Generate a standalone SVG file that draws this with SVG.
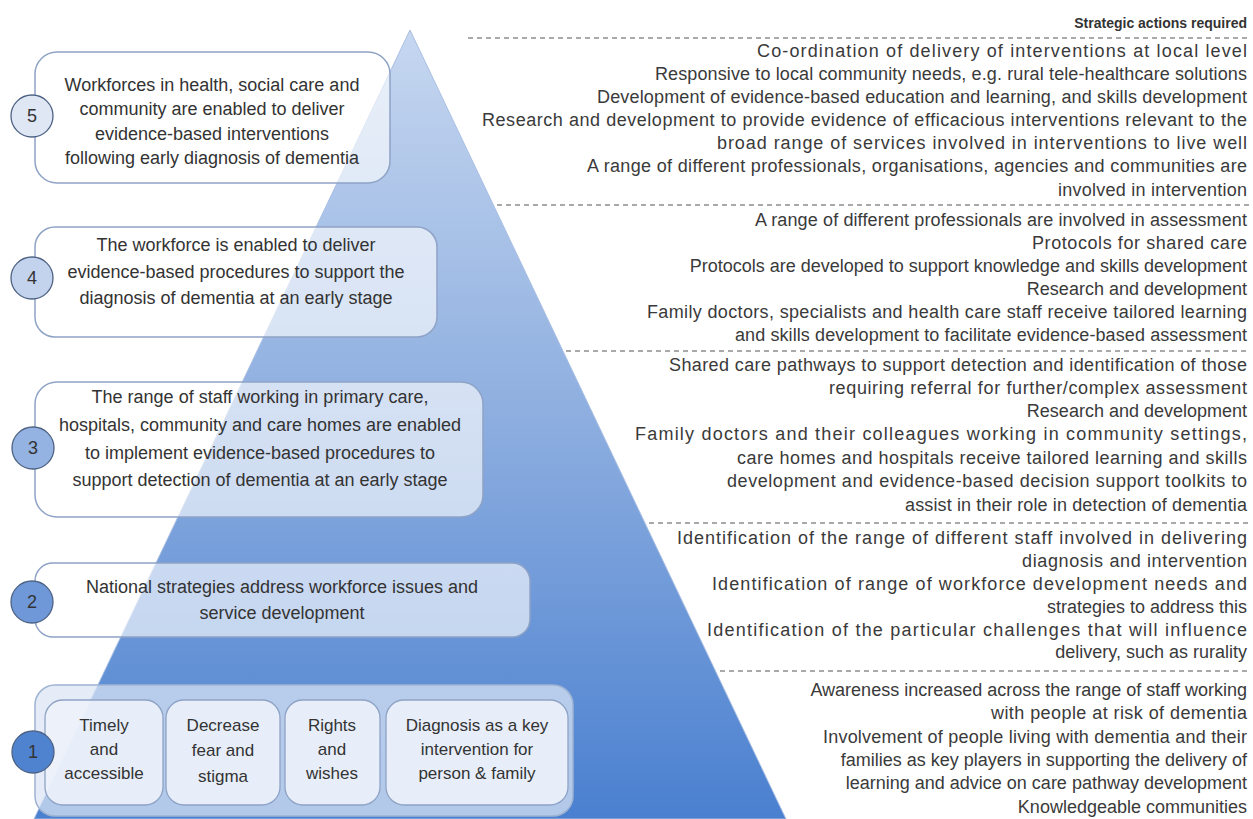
<svg xmlns="http://www.w3.org/2000/svg" width="1253" height="819" viewBox="0 0 1253 819">
<defs>
<linearGradient id="pyr" gradientUnits="userSpaceOnUse" x1="0" y1="30" x2="0" y2="819">
<stop offset="0" stop-color="#c6d7f0"/>
<stop offset="0.5" stop-color="#8caddf"/>
<stop offset="1" stop-color="#4a80d0"/>
</linearGradient>
<style>
.box{fill:#ffffff;fill-opacity:0.62;stroke:#8ea3c6;stroke-width:1.5}
.outer{fill:#dbe5f4;fill-opacity:0.72;stroke:#9fb3d3;stroke-width:1.5}
.inner{fill:#eef3fa;fill-opacity:0.88;stroke:#8ea3c6;stroke-width:1.3}
.circ{stroke:#4d6283;stroke-width:1.3}
.lt{font-family:"Liberation Sans",Arial,sans-serif;font-size:18px;fill:#333333;text-anchor:middle}
.it{font-family:"Liberation Sans",Arial,sans-serif;font-size:17px;fill:#333333;text-anchor:middle}
.num{font-family:"Liberation Sans",Arial,sans-serif;font-size:18px;fill:#333333;text-anchor:middle}
.rt{font-family:"Liberation Sans",Arial,sans-serif;font-size:18px;fill:#3a3a3a;text-anchor:end}
.hd{font-family:"Liberation Sans",Arial,sans-serif;font-size:14px;font-weight:bold;fill:#333333;text-anchor:end}
.dash{stroke:#555555;stroke-width:1.2;stroke-dasharray:5 4;fill:none}
</style>
</defs>
<rect width="1253" height="819" fill="#ffffff"/>
<g id="pyramid">
<polygon points="410,30 786,819 34,819" fill="url(#pyr)" stroke="#a9bfe3" stroke-width="1"/>
</g>
<g id="connectors">
<line class="dash" x1="468" y1="38" x2="1250" y2="38"/>
<line class="dash" x1="497" y1="205" x2="1250" y2="205"/>
<line class="dash" x1="566" y1="351" x2="1250" y2="351"/>
<line class="dash" x1="649" y1="523" x2="1250" y2="523"/>
<line class="dash" x1="720" y1="671" x2="1250" y2="671"/>
</g>
<g id="level5">
<rect class="box" x="35" y="52" width="355" height="131" rx="22"/>
<circle class="circ" cx="32" cy="116" r="21" fill="#dfe7f5"/>
<text class="num" x="32" y="122">5</text>
<text class="lt" x="212" y="91">Workforces in health, social care and</text>
<text class="lt" x="212" y="115">community are enabled to deliver</text>
<text class="lt" x="212" y="140">evidence-based interventions</text>
<text class="lt" x="212" y="164">following early diagnosis of dementia</text>
</g>
<g id="level4">
<rect class="box" x="35" y="227" width="402" height="110" rx="20"/>
<circle class="circ" cx="32" cy="278" r="21" fill="#c3d3ee"/>
<text class="num" x="32" y="284">4</text>
<text class="lt" x="236" y="251">The workforce is enabled to deliver</text>
<text class="lt" x="236" y="278">evidence-based procedures to support the</text>
<text class="lt" x="236" y="304">diagnosis of dementia at an early stage</text>
</g>
<g id="level3">
<rect class="box" x="35" y="382" width="448" height="135" rx="22"/>
<circle class="circ" cx="33" cy="448" r="21" fill="#94b3e3"/>
<text class="num" x="33" y="454">3</text>
<text class="lt" x="260" y="403">The range of staff working in primary care,</text>
<text class="lt" x="260" y="431">hospitals, community and care homes are enabled</text>
<text class="lt" x="260" y="459">to implement evidence-based procedures to</text>
<text class="lt" x="260" y="486">support detection of dementia at an early stage</text>
</g>
<g id="level2">
<rect class="box" x="35" y="563" width="495" height="74" rx="18"/>
<circle class="circ" cx="32" cy="602" r="21" fill="#6f98d9"/>
<text class="num" x="32" y="608">2</text>
<text class="lt" x="282" y="593">National strategies address workforce issues and</text>
<text class="lt" x="282" y="619">service development</text>
</g>
<g id="level1">
<rect class="outer" x="35" y="685" width="538" height="131" rx="20"/>
<g id="timely">
<rect class="inner" x="45" y="700" width="118" height="105" rx="18"/>
<text class="it" x="104" y="731">Timely</text>
<text class="it" x="104" y="755">and</text>
<text class="it" x="104" y="779">accessible</text>
</g>
<g id="decrease">
<rect class="inner" x="166" y="700" width="114" height="105" rx="18"/>
<text class="it" x="223" y="731">Decrease</text>
<text class="it" x="223" y="756">fear and</text>
<text class="it" x="223" y="782">stigma</text>
</g>
<g id="rights">
<rect class="inner" x="285" y="700" width="95" height="105" rx="18"/>
<text class="it" x="332" y="731">Rights</text>
<text class="it" x="332" y="755">and</text>
<text class="it" x="332" y="779">wishes</text>
</g>
<g id="diagnosis">
<rect class="inner" x="386" y="700" width="182" height="105" rx="18"/>
<text class="it" x="477" y="731">Diagnosis as a key</text>
<text class="it" x="477" y="755">intervention for</text>
<text class="it" x="477" y="779">person &amp; family</text>
</g>
<circle class="circ" cx="33" cy="752" r="21" fill="#4f82cf"/>
<text class="num" x="33" y="758">1</text>
</g>
<g id="actions">
<text class="hd" x="1247" y="28">Strategic actions required</text>
<text class="rt" x="1247" y="57" textLength="490" lengthAdjust="spacing">Co-ordination of delivery of interventions at local level</text>
<text class="rt" x="1247" y="80" textLength="592" lengthAdjust="spacing">Responsive to local community needs, e.g. rural tele-healthcare solutions</text>
<text class="rt" x="1247" y="103" textLength="650" lengthAdjust="spacing">Development of evidence-based education and learning, and skills development</text>
<text class="rt" x="1247" y="126" textLength="765" lengthAdjust="spacing">Research and development to provide evidence of efficacious interventions relevant to the</text>
<text class="rt" x="1247" y="149" textLength="530" lengthAdjust="spacing">broad range of services involved in interventions to live well</text>
<text class="rt" x="1247" y="172" textLength="660" lengthAdjust="spacing">A range of different professionals, organisations, agencies and communities are</text>
<text class="rt" x="1247" y="196" textLength="189" lengthAdjust="spacing">involved in intervention</text>
<text class="rt" x="1247" y="226" textLength="492" lengthAdjust="spacing">A range of different professionals are involved in assessment</text>
<text class="rt" x="1247" y="249" textLength="215" lengthAdjust="spacing">Protocols for shared care</text>
<text class="rt" x="1247" y="272">Protocols are developed to support knowledge and skills development</text>
<text class="rt" x="1247" y="295">Research and development</text>
<text class="rt" x="1247" y="318" textLength="600" lengthAdjust="spacing">Family doctors, specialists and health care staff receive tailored learning</text>
<text class="rt" x="1247" y="341" textLength="512" lengthAdjust="spacing">and skills development to facilitate evidence-based assessment</text>
<text class="rt" x="1247" y="371" textLength="578" lengthAdjust="spacing">Shared care pathways to support detection and identification of those</text>
<text class="rt" x="1247" y="394" textLength="418" lengthAdjust="spacing">requiring referral for further/complex assessment</text>
<text class="rt" x="1247" y="417">Research and development</text>
<text class="rt" x="1247" y="440" textLength="612" lengthAdjust="spacing">Family doctors and their colleagues working in community settings,</text>
<text class="rt" x="1247" y="464" textLength="510" lengthAdjust="spacing">care homes and hospitals receive tailored learning and skills</text>
<text class="rt" x="1247" y="487" textLength="520" lengthAdjust="spacing">development and evidence-based decision support toolkits to</text>
<text class="rt" x="1247" y="511" textLength="342" lengthAdjust="spacing">assist in their role in detection of dementia</text>
<text class="rt" x="1247" y="544" textLength="570" lengthAdjust="spacing">Identification of the range of different staff involved in delivering</text>
<text class="rt" x="1247" y="567" textLength="225" lengthAdjust="spacing">diagnosis and intervention</text>
<text class="rt" x="1247" y="590" textLength="535" lengthAdjust="spacing">Identification of range of workforce development needs and</text>
<text class="rt" x="1247" y="613">strategies to address this</text>
<text class="rt" x="1247" y="636" textLength="540" lengthAdjust="spacing">Identification of the particular challenges that will influence</text>
<text class="rt" x="1247" y="658">delivery, such as rurality</text>
<text class="rt" x="1247" y="696">Awareness increased across the range of staff working</text>
<text class="rt" x="1247" y="719" textLength="256" lengthAdjust="spacing">with people at risk of dementia</text>
<text class="rt" x="1247" y="743" textLength="424" lengthAdjust="spacing">Involvement of people living with dementia and their</text>
<text class="rt" x="1247" y="766">families as key players in supporting the delivery of</text>
<text class="rt" x="1247" y="789">learning and advice on care pathway development</text>
<text class="rt" x="1247" y="813">Knowledgeable communities</text>
</g>
</svg>
